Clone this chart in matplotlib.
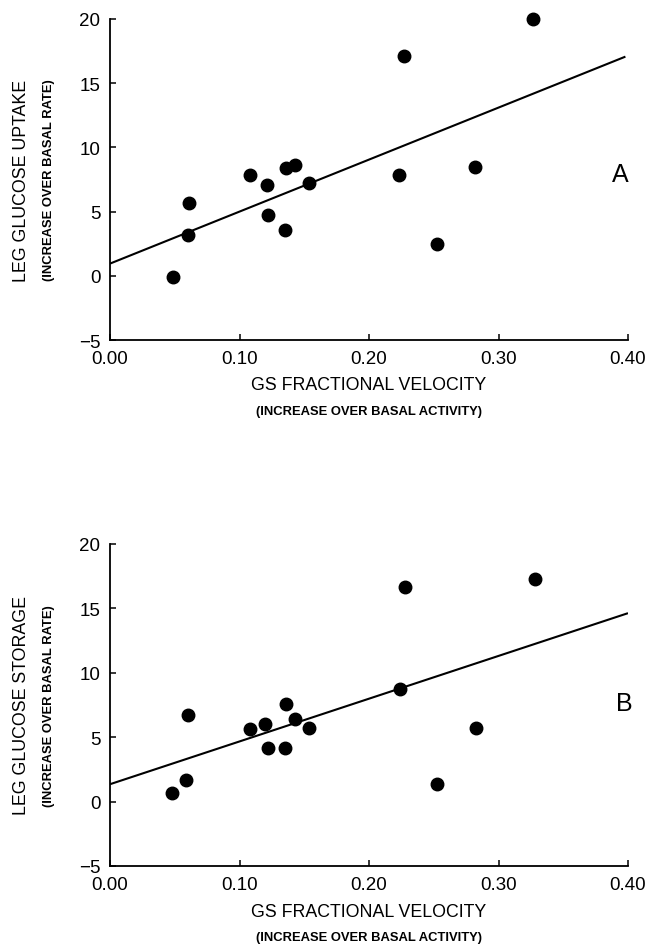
import matplotlib
matplotlib.use("Agg")
import matplotlib.pyplot as plt
import numpy as np

plt.rcParams['font.family'] = ['Liberation Sans', 'DejaVu Sans']

# GS fractional velocity (increase over basal activity)
gs_a = [0.049, 0.060, 0.061, 0.108, 0.121, 0.122, 0.135, 0.136, 0.143, 0.154, 0.223, 0.227, 0.2525, 0.282, 0.327]
uptake = [-0.1, 3.2, 5.65, 7.85, 7.1, 4.7, 3.55, 8.4, 8.6, 7.25, 7.85, 17.15, 2.45, 8.45, 20.0]

gs_b = [0.048, 0.059, 0.060, 0.108, 0.120, 0.122, 0.135, 0.136, 0.143, 0.154, 0.224, 0.228, 0.2525, 0.283, 0.328]
storage = [0.65, 1.7, 6.75, 5.65, 6.0, 4.15, 4.15, 7.55, 6.4, 5.75, 8.75, 16.7, 1.4, 5.7, 17.3]

# regression lines: (intercept, slope)
fit_a = (0.95, 40.5)
fit_b = (1.35, 33.2)
fit_end_a = 0.398
fit_end_b = 0.40

xticks = [0.0, 0.1, 0.2, 0.3, 0.4]
xticklabels = ['0.00', '0.10', '0.20', '0.30', '0.40']
yticks = [-5, 0, 5, 10, 15, 20]
yticklabels = ['\u22125', '0', '5', '10', '15', '20']

fig = plt.figure(figsize=(6.48, 9.45), dpi=100)
W, H = 648, 945


def make_axes(top, bottom):
    left, right = 110, 628
    return fig.add_axes([left / W, 1 - bottom / H, (right - left) / W, (bottom - top) / H])


def draw_panel(ax, x, y, fit, fit_end, ylab, letter, letter_pos):
    xs = np.array([0.0, fit_end])
    ax.plot(xs, fit[0] + fit[1] * xs, color='black', lw=1.5, solid_capstyle='butt')
    ax.plot(x, y, 'o', color='black', ms=9, clip_on=False, zorder=3)
    ax.set_xlim(0, 0.40)
    ax.set_ylim(-5, 20)
    ax.set_xticks(xticks)
    ax.set_xticklabels(xticklabels)
    ax.set_yticks(yticks)
    ax.set_yticklabels(yticklabels)
    for s in ['top', 'right']:
        ax.spines[s].set_visible(False)
    for s in ['left', 'bottom']:
        ax.spines[s].set_linewidth(1.3)
    ax.tick_params(axis='both', direction='in', length=4, width=1.1, labelsize=13.5)
    ax.tick_params(axis='y', pad=7)
    ax.tick_params(axis='x', pad=7.5)
    ax.text(-0.170, 0.5, ylab, transform=ax.transAxes, rotation=90,
            ha='center', va='center', fontsize=12.8)
    ax.text(-0.118, 0.5, '(INCREASE OVER BASAL RATE)', transform=ax.transAxes, rotation=90,
            ha='center', va='center', fontsize=9.4, fontweight='bold')
    ax.text(0.5, -0.140, 'GS FRACTIONAL VELOCITY', transform=ax.transAxes,
            ha='center', va='center', fontsize=12.8)
    ax.text(0.5, -0.220, '(INCREASE OVER BASAL ACTIVITY)', transform=ax.transAxes,
            ha='center', va='center', fontsize=9.4, fontweight='bold')
    ax.text(letter_pos[0], letter_pos[1], letter, transform=ax.transAxes,
            ha='center', va='center', fontsize=18, clip_on=False)


ax_a = make_axes(20, 341)
draw_panel(ax_a, gs_a, uptake, fit_a, fit_end_a, 'LEG GLUCOSE UPTAKE', 'A', (0.986, 0.517))

ax_b = make_axes(545, 867)
draw_panel(ax_b, gs_b, storage, fit_b, fit_end_b, 'LEG GLUCOSE STORAGE', 'B', (0.992, 0.506))

fig.savefig('out.png', dpi=100)
